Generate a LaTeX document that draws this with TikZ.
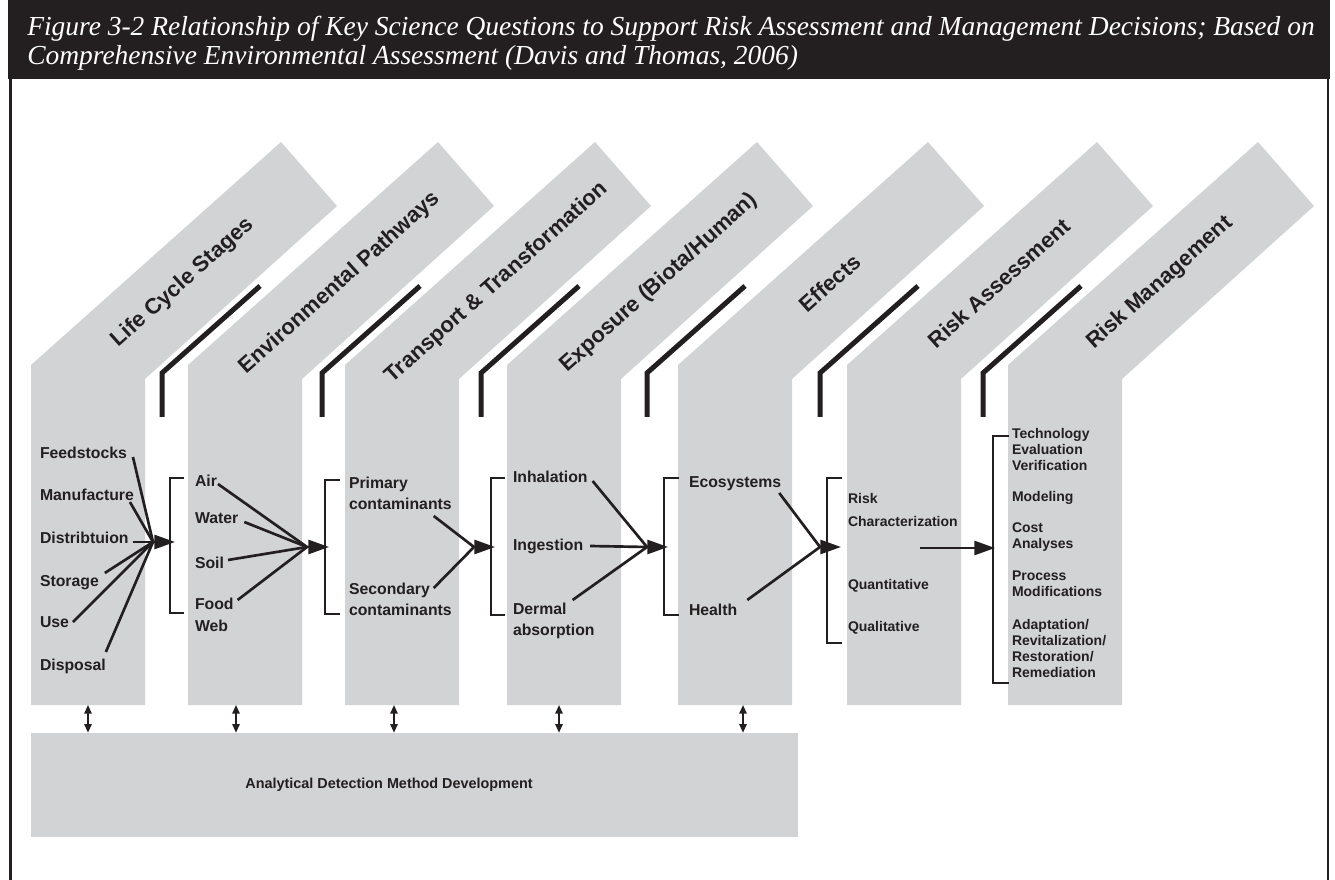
\documentclass[tikz,border=0pt]{standalone}
\usepackage{fontspec}
\setmainfont{Liberation Sans}
\newfontfamily\serifit{Liberation Serif}
\usetikzlibrary{arrows.meta}
\definecolor{ink}{HTML}{231F20}
\definecolor{bandgray}{HTML}{D1D3D4}
\newcommand\fntA{\fontsize{11.85pt}{15.75pt}\selectfont\bfseries}
\newcommand\fntFW{\fontsize{11.85pt}{16.5pt}\selectfont\bfseries}
\newcommand\fntB{\fontsize{10.5pt}{17.25pt}\selectfont\bfseries}
\newcommand\fntC{\fontsize{10.5pt}{12pt}\selectfont\bfseries}
\newcommand\fntD{\fontsize{16.5pt}{20pt}\selectfont\bfseries}
\newcommand\fntE{\fontsize{10.8pt}{13pt}\selectfont\bfseries}
\newcommand\fntT{\fontsize{20.6pt}{24pt}\selectfont\serifit\itshape}
\begin{document}
\begin{tikzpicture}[x=0.75pt,y=-0.75pt,
  bandfill/.style={fill=bandgray},
  bendline/.style={line width=3.75pt,draw=ink,line cap=butt,line join=miter},
  brk/.style={line width=2pt,draw=ink,line join=miter},
  conn/.style={line width=2pt,draw=ink},
  arr/.style={line width=2pt,draw=ink,-{Triangle[length=15.5pt,width=10.5pt]}},
  dbl/.style={line width=1.3pt,draw=ink,{Triangle[length=6.5pt,width=5.5pt]}-{Triangle[length=6.5pt,width=5.5pt]}},
  item/.style={anchor=north west,inner sep=0pt,outer sep=0pt,text=ink,align=left,font=\fntA},
  itemB/.style={item,font=\fntB},
  itemC/.style={item,font=\fntC},
  diag/.style={inner sep=0pt,text=ink,font=\fntD,rotate=41.8},
  ttl/.style={anchor=base west,inner sep=0pt,text=white,font=\fntT}
]
\useasboundingbox (0,0) rectangle (1335,880);
\fill[white] (0,0) rectangle (1335,880);
% title bar and frame
\fill[ink] (8,0) rectangle (1330,79);
\node[ttl] (t1) at (27,36) {Figure 3-2 Relationship of Key Science Questions to Support Risk Assessment and Management Decisions; Based on};
\node[ttl] (t2) at (27,65) {Comprehensive Environmental Assessment (Davis and Thomas, 2006)};
\draw[line width=2pt,ink] (10.5,79) -- (10.5,880);
\draw[line width=2pt,ink] (1328,79) -- (1328,880);
% columns
\foreach \L in {31,188,345,507,678,847,1008}{
  \fill[bandfill] (\L,705) -- (\L,365) -- ({\L+250},142) -- ({\L+306},206) -- ({\L+114},379) -- ({\L+114},705) -- cycle;
}
% bend lines
\foreach \B in {162,322,481,647,820,983}{
  \draw[bendline] (\B,417) -- (\B,373) -- ({\B+98},286);
}
% diagonal labels
\node[diag] (d1) at (183,283) {Life Cycle Stages};
\node[diag] (d2) at (340,283) {Environmental Pathways};
\node[diag] (d3) at (497,283) {Transport \& Transformation};
\node[diag] (d4) at (659,283) {Exposure (Biota/Human)};
\node[diag] (d5) at (830,283) {Effects};
\node[diag] (d6) at (999,283) {Risk Assessment};
\node[diag] (d7) at (1160,283) {Risk Management};
% brackets
\draw[brk] (184,478) -| (170,613) -- (184,613);
\draw[brk] (340,480) -| (325,614) -- (340,614);
\draw[brk] (505,478) -| (491,615) -- (505,615);
\draw[brk] (679,478) -| (664,615) -- (679,615);
\draw[brk] (842,478) -| (827,643) -- (842,643);
\draw[brk] (1009,436) -| (993,683) -- (1009,683);
% column 1
\node[item] (f1) at (40,447) {Feedstocks};
\node[item] (f2) at (40,489) {Manufacture};
\node[item] (f3) at (40,532) {Distribtuion};
\node[item] (f4) at (40,575) {Storage};
\node[item] (f5) at (40,617) {Use};
\node[item] (f6) at (40,659) {Disposal};
\coordinate (c1) at (153,542);
\coordinate (k1) at (175,542);
\draw[conn] ([shift={(6,10)}]f1.north east) -- (c1);
\draw[conn] ([shift={(-4,13)}]f2.north east) -- (c1);
\draw[conn] ([shift={(4,10)}]f3.north east) -- (c1);
\draw[conn] ([shift={(6,-2)}]f4.north east) -- (c1);
\draw[conn] ([shift={(4,5)}]f5.north east) -- (c1);
\draw[conn] ([shift={(0,-7)}]f6.north east) -- (c1);
\draw[arr] (c1) -- (k1);
% column 2
\node[item] (e1) at (195,475) {Air};
\node[item] (e2) at (195,513) {Water};
\node[item] (e3) at (195,557) {Soil};
\node[item,font=\fntFW] (e4) at (195,598) {Food\\Web};
\coordinate (c2) at (307,547);
\coordinate (k2) at (329,547);
\draw[conn] ([shift={(1,9)}]e1.north east) -- (c2);
\draw[conn] ([shift={(6,9)}]e2.north east) -- (c2);
\draw[conn] ([shift={(4,3)}]e3.north east) -- (c2);
\draw[conn] ([shift={(4,2)}]e4.north east) -- (c2);
\draw[arr] (c2) -- (k2);
% column 3
\node[item] (p1) at (349,477) {Primary\\contaminants};
\node[item] (p2) at (349,583) {Secondary\\contaminants};
\coordinate (c3) at (474,547);
\coordinate (k3) at (495,547);
\draw[conn] ([shift={(-18,39)}]p1.north east) -- (c3);
\draw[conn] ([shift={(-18,5)}]p2.north east) -- (c3);
\draw[arr] (c3) -- (k3);
% column 4
\node[item] (x1) at (513,471) {Inhalation};
\node[item] (x2) at (513,539) {Ingestion};
\node[item] (x3) at (513,603) {Dermal\\absorption};
\coordinate (c4) at (647,547);
\coordinate (k4) at (668,547);
\draw[conn] ([shift={(5,10)}]x1.north east) -- (c4);
\draw[conn] ([shift={(7,7)}]x2.north east) -- (c4);
\draw[conn] ([shift={(-22,-3)}]x3.north east) -- (c4);
\draw[arr] (c4) -- (k4);
% column 5
\node[item] (h1) at (689,477) {Ecosystems};
\node[item] (h2) at (689,604) {Health};
\coordinate (c5) at (820,547);
\coordinate (k5) at (841,547);
\draw[conn] ([shift={(-2,16)}]h1.north east) -- (c5);
\draw[conn] ([shift={(10,-4)}]h2.north east) -- (c5);
\draw[arr] (c5) -- (k5);
% column 6
\node[itemB] (r1) at (848,493) {Risk\\Characterization};
\node[itemB] (r2) at (848,579) {Quantitative};
\node[itemB] (r3) at (848,621) {Qualitative};
\coordinate (c6) at (920,548);
\coordinate (k6) at (995,548);
\draw[arr] (c6) -- (k6);
% column 7
\node[itemC] (m1) at (1012,428) {Technology\\Evaluation\\Verification};
\node[itemC] (m2) at (1012,491) {Modeling};
\node[itemC] (m3) at (1012,523) {Cost\\Analyses};
\node[itemC] (m4) at (1012,571) {Process\\Modifications};
\node[itemC] (m5) at (1012,619) {Adaptation/\\Revitalization/\\Restoration/\\Remediation};
% bottom box
\node[fill=bandgray,inner sep=0pt,minimum width=575.25pt,minimum height=78pt] (adm) at (414.5,785) {};
\node[inner sep=0pt,text=ink,font=\fntE] (admt) at (389,785) {Analytical Detection Method Development};
\coordinate (cb1) at (88,705);
\coordinate (cb2) at (236,705);
\coordinate (cb3) at (394,705);
\coordinate (cb4) at (559,705);
\coordinate (cb5) at (743,705);
\foreach \c in {cb1,cb2,cb3,cb4,cb5}{
  \draw[dbl] (\c) -- (\c |- adm.north);
}
\end{tikzpicture}
\end{document}
